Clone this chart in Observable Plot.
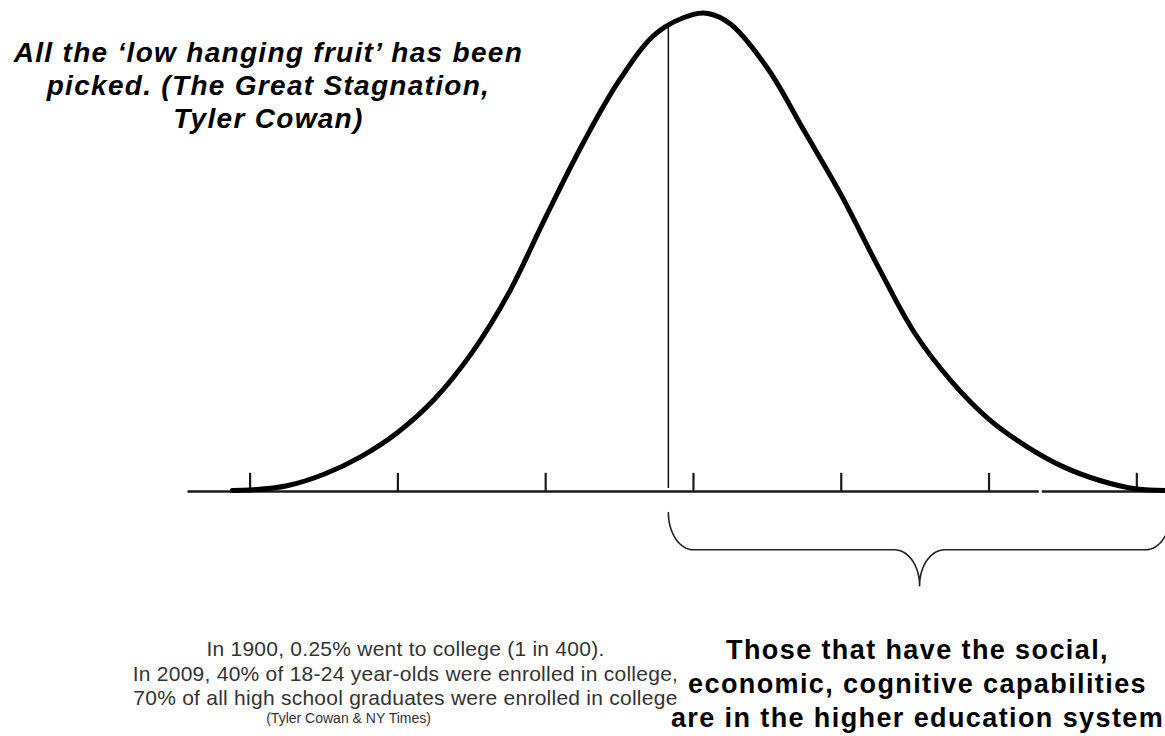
<!DOCTYPE html>
<html>
<head>
<meta charset="utf-8">
<script src="https://cdn.jsdelivr.net/npm/d3@7"></script>
<script src="https://cdn.jsdelivr.net/npm/@observablehq/plot@0.6"></script>
<style>
  html, body { margin: 0; padding: 0; background: #fff; }
  #chart svg { display: block; }
  g[font-size="28"] { letter-spacing: 1.3px; }
  g[font-size="27"] { letter-spacing: 1.4px; }
  g[font-size="21"] { letter-spacing: 0.25px; }
</style>
</head>
<body>
<div id="chart"></div>
<script>
// ---- data (x in standard deviations, y in relative height 0..100) ----
const curveX = [-3.12, -3.0, -2.75, -2.5, -2.25, -2.0, -1.75, -1.5, -1.25, -1.0, -0.75, -0.5, -0.25,
  0.0, 0.1, 0.25, 0.5, 0.75, 1.0, 1.25, 1.5, 1.75, 2.0, 2.25, 2.5, 2.75, 3.0, 3.2];
const curveY = [0.2, 0.3, 1.2, 3.6, 7.3, 12.4, 19.4, 29.0, 41.5, 57.4, 72.7, 86.1, 95.9,
  99.8, 100, 97.8, 88.6, 75.4, 62.0, 47.0, 33.0, 22.9, 15.1, 9.5, 5.2, 2.3, 0.5, 0.2];
const tickValues = [-3, -2, -1, 0, 1, 2, 3];
const baselineSegments = [[-3.42, 2.34], [2.36, 3.2]];
const cutoff = -0.17;          // vertical line: entry into higher education
const braceRange = [-0.17, 3.23];

const quoteLines = ["All the \u2018low hanging fruit\u2019 has been", "picked. (The Great Stagnation,", "Tyler Cowan)"];
const factLines = ["In 1900, 0.25% went to college (1 in 400).",
  "In 2009, 40% of 18-24 year-olds were enrolled in college,",
  "70% of all high school graduates were enrolled in college"];
const sourceLine = ["(Tyler Cowan & NY Times)"];
const braceLines = ["Those that have the social,", "economic, cognitive capabilities", "are in the higher education system"];

// ---- derived tables ----
const curve = curveX.map((x, i) => ({x, y: curveY[i]}));
function interp(x) {
  for (let i = 1; i < curve.length; i++) {
    if (x <= curve[i].x) {
      const a = curve[i - 1], b = curve[i];
      return a.y + (b.y - a.y) * (x - a.x) / (b.x - a.x);
    }
  }
  return 0;
}
const cutoffTop = interp(cutoff);

// brace shape built from its span
function bracePoints([x0, x1]) {
  const mid = (x0 + x1) / 2, rx = 0.17, top = -4.4, bar = -12.2, tip = -19.7;
  const pts = [];
  const n = 16;
  for (let k = 0; k <= n; k++) { const t = k / n * Math.PI / 2; pts.push({x: x0 + rx - rx * Math.cos(t), y: top + (bar - top) * Math.sin(t)}); }
  for (let k = 0; k <= n; k++) { const t = k / n * Math.PI / 2; pts.push({x: mid - rx + rx * Math.sin(t), y: tip + (bar - tip) * Math.cos(t)}); }
  for (let k = n; k >= 0; k--) { const t = k / n * Math.PI / 2; pts.push({x: mid + rx - rx * Math.sin(t), y: tip + (bar - tip) * Math.cos(t)}); }
  for (let k = n; k >= 0; k--) { const t = k / n * Math.PI / 2; pts.push({x: x1 - rx + rx * Math.cos(t), y: top + (bar - top) * Math.sin(t)}); }
  return pts;
}
const brace = bracePoints(braceRange);

const font = "'Liberation Sans', Arial, Helvetica, sans-serif";

const chart = Plot.plot({
  width: 1165,
  height: 736,
  margin: 0,
  style: {background: "#fff", fontFamily: font, overflow: "hidden"},
  x: {domain: [-4.689, 3.194], axis: null},
  y: {domain: [-51.26, 102.72], axis: null},
  marks: [
    Plot.ruleY(baselineSegments, {y: () => 0, x1: d => d[0], x2: d => d[1], stroke: "#1a1a1a", strokeWidth: 2.6}),
    Plot.ruleX(tickValues, {x: d => d, y1: 0, y2: 3.8, stroke: "#1a1a1a", strokeWidth: 2.2}),
    Plot.ruleX([cutoff], {x: d => d, y1: 0.6, y2: cutoffTop, stroke: "#111", strokeWidth: 1.5}),
    Plot.line(curve, {x: "x", y: "y", curve: "catmull-rom", stroke: "#000", strokeWidth: 5, strokeLinejoin: "round", strokeLinecap: "round"}),
    Plot.line(brace, {x: "x", y: "y", stroke: "#222", strokeWidth: 1.6}),
    Plot.text(quoteLines, {x: () => -2.876, y: (d, i) => 91.8 - i * 6.9, text: d => d,
      fontSize: 28, fontWeight: "bold", fontStyle: "italic", fill: "#000", textAnchor: "middle", fontFamily: font}),
    Plot.text(factLines, {x: () => -1.949, y: (d, i) => -33.05 - i * 5.13, text: d => d,
      fontSize: 21, fill: "#333", textAnchor: "middle", fontFamily: font}),
    Plot.text(sourceLine, {x: () => -2.334, y: () => -47.5, text: d => d,
      fontSize: 14, fill: "#333", textAnchor: "middle", fontFamily: font}),
    Plot.text(braceLines, {x: () => 1.516, y: (d, i) => -33.26 - i * 7.11, text: d => d,
      fontSize: 27, fontWeight: "bold", fill: "#000", textAnchor: "middle", fontFamily: font})
  ]
});
document.getElementById("chart").appendChild(chart);
</script>
</body>
</html>
